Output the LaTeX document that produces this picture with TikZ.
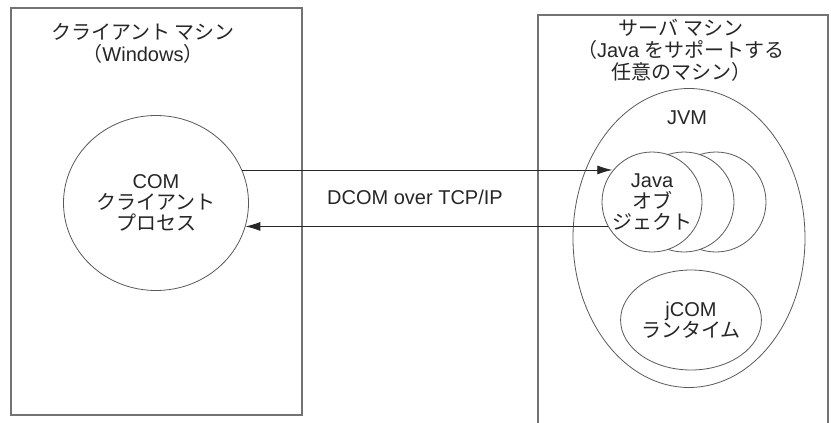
\documentclass[tikz,border=0pt]{standalone}
\usepackage{fontspec}
\setmainfont{Liberation Sans}
\newfontfamily\jp{Noto Sans CJK JP}
\usetikzlibrary{shapes.geometric,arrows.meta}

\begin{document}
\begin{tikzpicture}[x=1pt,y=-1pt,
  machine/.style={draw=black!55,line width=1.6pt,inner sep=0pt},
  proc/.style={ellipse,draw=black!65,line width=0.8pt,fill=white,inner sep=0pt,
    align=center,font=\fontsize{20}{21}\selectfont,text=black!85},
  lbl/.style={align=center,font=\fontsize{20}{22}\selectfont,text=black!85},
  msg/.style={draw=black!85,line width=0.8pt,-{Latex[length=15pt,width=9pt]}}]
  \path[use as bounding box,clip] (0,0) rectangle (831,423);
  % machines
  \node[machine,minimum width=291,minimum height=407] (client) at (156.5,211.5) {};
  \node[machine,minimum width=290,minimum height=425] (server) at (683,227.5) {};
  \node[lbl] (clienttitle) at (143,43.5) {{\jp クライアント マシン}\\{\jp （}Windows{\jp ）}};
  \node[lbl] (servertitle) at (681,50) {{\jp サーバ マシン}\\{\jp （}Java {\jp をサポートする}\\{\jp 任意のマシン）}};
  % client process
  \node[proc,minimum width=185,minimum height=175] (lproc) at (156,203)
    {COM\\{\jp クライアント}\\{\jp プロセス}};
  % JVM with its objects
  \node[proc,minimum width=232,minimum height=299] (jvm) at (689,238) {};
  \node[lbl] (jvmlabel) at (687,118) {JVM};
  \node[proc,circle,minimum size=100] (jobj3) at (716,202) {};
  \node[proc,circle,minimum size=100] (jobj2) at (684,202) {};
  \node[proc,circle,minimum size=100] (jobj) at (652,202)
    {Java\\{\jp オブ}\\{\jp ジェクト}};
  \node[proc,minimum width=123,minimum height=100] (jcom) at (691,320)
    {jCOM\\{\jp ランタイム}};
  % DCOM calls
  \draw[msg] (lproc.21) -- (lproc.21 -| jobj.142);
  \draw[msg] (jobj.209) -- (jobj.209 -| lproc.-15);
  \node[lbl] (dcom) at (415,197) {DCOM over TCP/IP};
\end{tikzpicture}
\end{document}
